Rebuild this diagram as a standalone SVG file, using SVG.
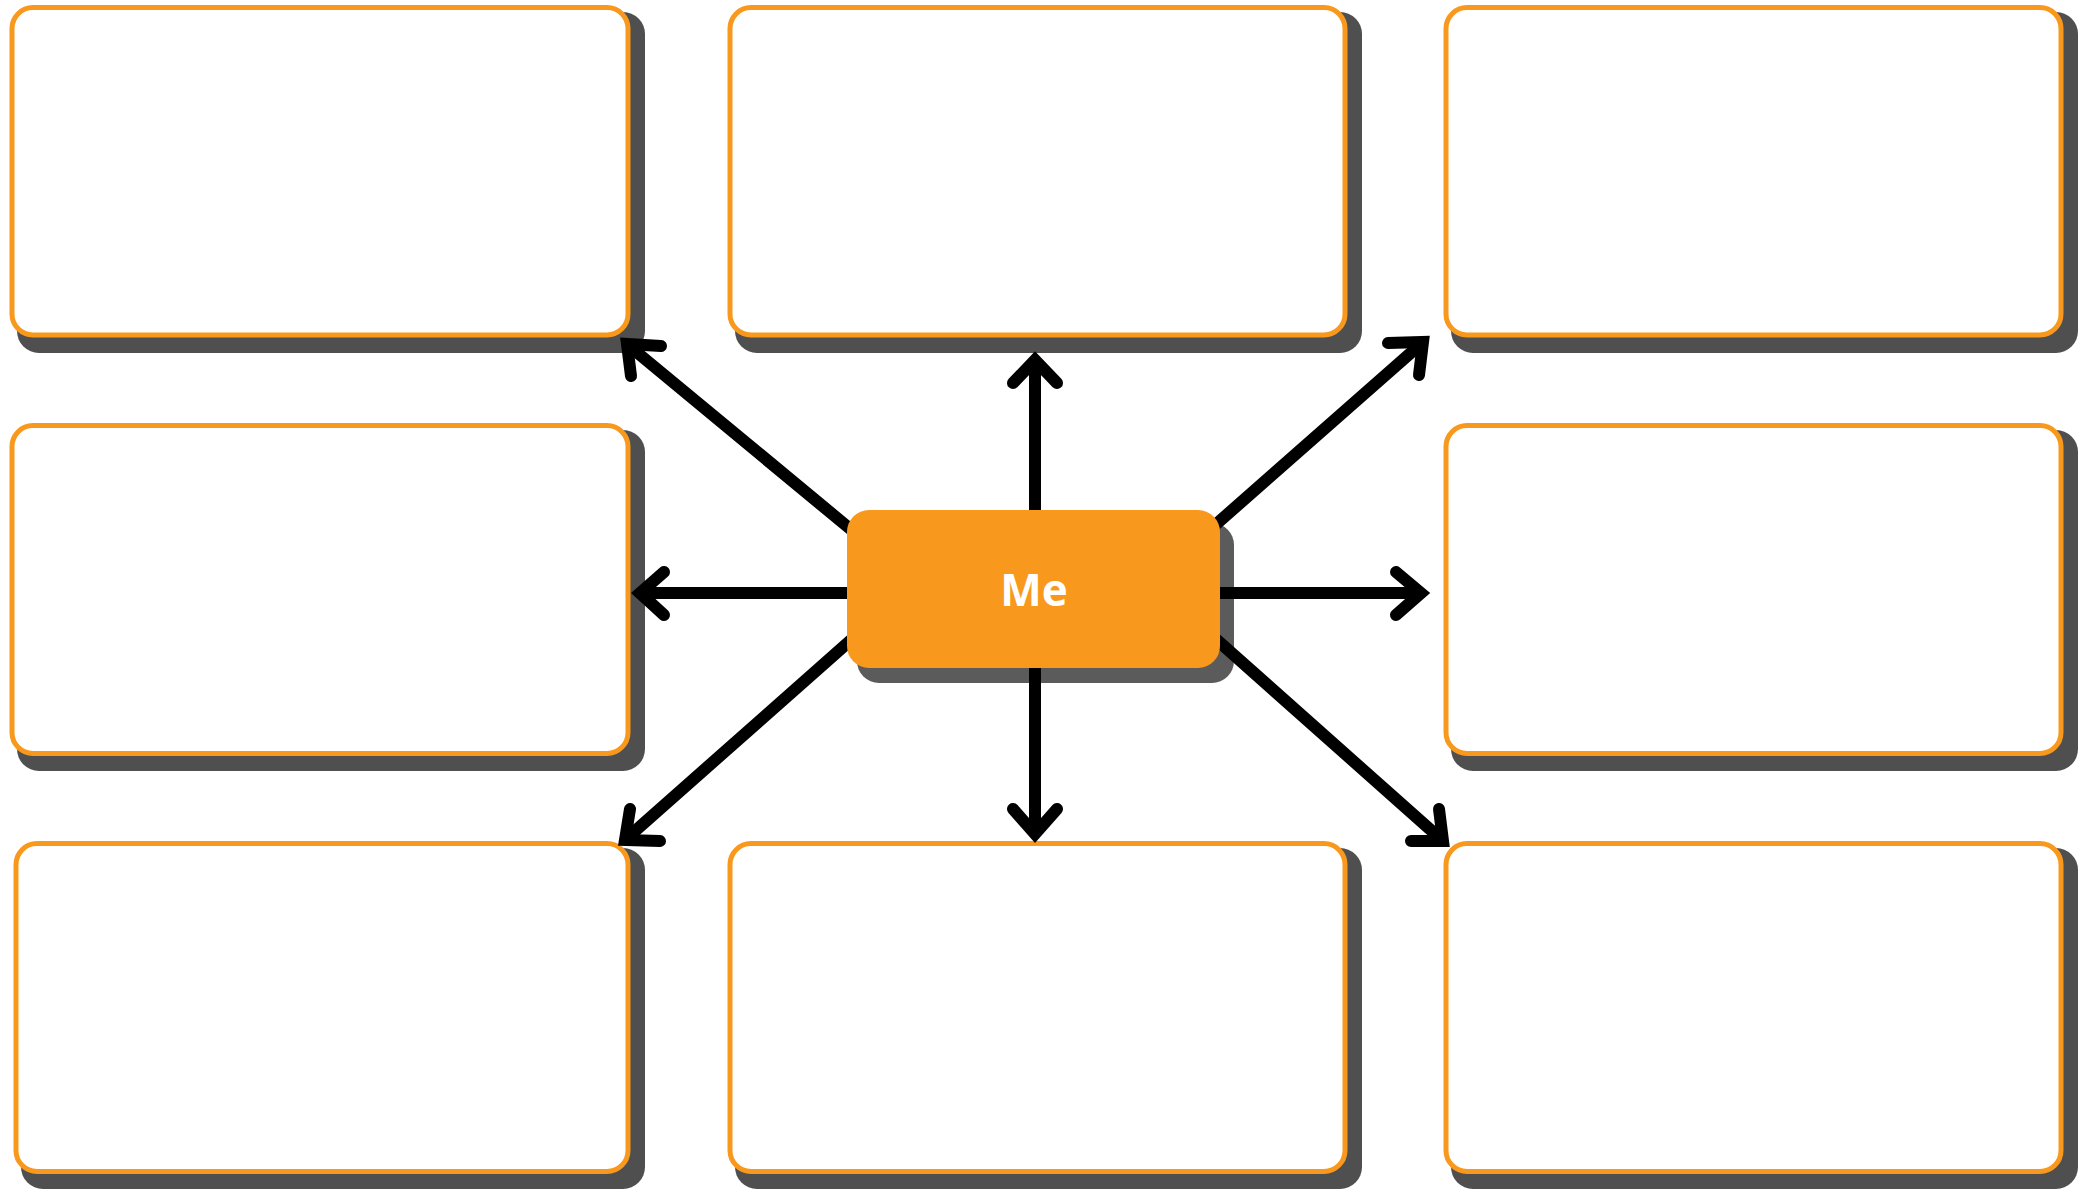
<svg xmlns="http://www.w3.org/2000/svg" width="2091" height="1189" viewBox="0 0 2091 1189">
<defs>
<style>
.shadow{fill:#4f4f4f;}
.box{fill:#ffffff;stroke:#F8991D;stroke-width:5;}
.conn{fill:none;stroke:#000000;stroke-width:12;stroke-linecap:round;stroke-linejoin:miter;stroke-miterlimit:10;}
.me{font-family:"Open Sans","Liberation Sans",sans-serif;font-weight:700;font-size:44px;fill:#ffffff;text-anchor:middle;}
</style>
</defs>
<rect width="2091" height="1189" fill="#ffffff"/>
<g id="shadows">
<rect class="shadow" x="17" y="12" width="628" height="341" rx="22"/>
<rect class="shadow" x="735" y="12" width="627" height="341" rx="22"/>
<rect class="shadow" x="1451" y="12" width="627" height="341" rx="22"/>
<rect class="shadow" x="17" y="430" width="628" height="341" rx="22"/>
<rect class="shadow" x="1451" y="430" width="627" height="341" rx="22"/>
<rect class="shadow" x="21" y="848" width="624" height="341" rx="22"/>
<rect class="shadow" x="735" y="848" width="627" height="341" rx="22"/>
<rect class="shadow" x="1451" y="848" width="627" height="341" rx="22"/>
<rect x="857" y="523" width="377" height="160" rx="22" fill="#5b5b5b"/>
</g>
<g id="box-top-left"><rect class="box" x="12" y="7.5" width="616" height="327.5" rx="21"/></g>
<g id="box-top-middle"><rect class="box" x="730" y="7.5" width="615" height="327.5" rx="21"/></g>
<g id="box-top-right"><rect class="box" x="1446" y="7.5" width="615" height="327.5" rx="21"/></g>
<g id="box-middle-left"><rect class="box" x="12" y="425.5" width="616" height="328" rx="21"/></g>
<g id="box-middle-right"><rect class="box" x="1446" y="425.5" width="615" height="328" rx="21"/></g>
<g id="box-bottom-left"><rect class="box" x="16" y="843.5" width="612" height="328" rx="21"/></g>
<g id="box-bottom-middle"><rect class="box" x="730" y="843.5" width="615" height="328" rx="21"/></g>
<g id="box-bottom-right"><rect class="box" x="1446" y="843.5" width="615" height="328" rx="21"/></g>
<g id="connectors">
<path class="conn" d="M1035 361 V600"/>
<path class="conn" d="M1013 383 L1035 360 L1057 383"/>
<path class="conn" d="M1035 600 V833"/>
<path class="conn" d="M1013 809 L1035 834 L1057 809"/>
<path class="conn" d="M642 593 H1035"/>
<path class="conn" d="M664 572 L640 593 L664 615"/>
<path class="conn" d="M1035 593 H1420"/>
<path class="conn" d="M1396 572 L1421 593 L1396 615"/>
<path class="conn" d="M628 345 L860 537"/>
<path class="conn" d="M661 346 L627 344 L631 376"/>
<path class="conn" d="M1422 343 L1205 534"/>
<path class="conn" d="M1388 343 L1423 342 L1419 375"/>
<path class="conn" d="M626 839 L860 632"/>
<path class="conn" d="M660 841 L625 840 L630 809"/>
<path class="conn" d="M1442 840 L1208 632"/>
<path class="conn" d="M1411 841 L1443 841 L1439 809"/>
</g>
<g id="node-me">
<rect x="847" y="510" width="373" height="158" rx="22" fill="#F8991D"/>
<text class="me" x="1034" y="606">Me</text>
</g>
</svg>
